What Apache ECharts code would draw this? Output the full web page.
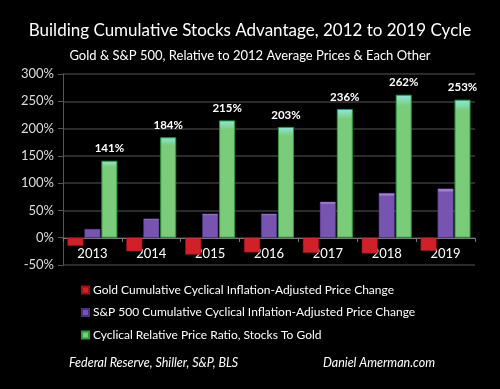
<!DOCTYPE html>
<html><head><meta charset="utf-8">
<script src="https://cdn.jsdelivr.net/npm/echarts@6/dist/echarts.min.js"></script>
<style>html,body{margin:0;padding:0;background:#000;}#c{width:500px;height:389px;}</style>
</head><body><div id="c"></div>
<script>
const categories = ['2013','2014','2015','2016','2017','2018','2019'];
const goldChange = [-15, -25, -31, -27, -28, -29, -24];
const spChange = [16, 35, 44, 44, 66, 82, 90];
const ratio = [141, 184, 215, 203, 236, 262, 253];
const seriesNames = ['Gold Cumulative Cyclical Inflation-Adjusted Price Change','S&P 500 Cumulative Cyclical Inflation-Adjusted Price Change','Cyclical Relative Price Ratio, Stocks To Gold'];
const FONT = 'Lato';
function grad(top, bottom){ return new echarts.graphic.LinearGradient(0,0,0,1,[{offset:0,color:top},{offset:0.08,color:bottom},{offset:1,color:bottom}]); }
const chart = echarts.init(document.getElementById('c'));
chart.setOption({
  backgroundColor:'#000',
  animation:false,
  textStyle:{fontFamily:FONT},
  title:[
    {text:'Building Cumulative Stocks Advantage, 2012 to 2019 Cycle',left:'center',top:17,textStyle:{color:'#fff',fontSize:17,fontWeight:'normal',fontFamily:FONT}},
    {text:'Gold & S&P 500, Relative to 2012 Average Prices & Each Other',left:'center',top:44,textStyle:{color:'#fff',fontSize:13,fontWeight:'normal',fontFamily:FONT}},
    {text:'Federal Reserve, Shiller, S&P, BLS',left:64,top:351,textStyle:{color:'#fff',fontSize:12.5,fontStyle:'italic',fontWeight:'normal',fontFamily:FONT}},
    {text:'Daniel Amerman.com',left:318,top:351,textStyle:{color:'#fff',fontSize:12.5,fontStyle:'italic',fontWeight:'normal',fontFamily:FONT}}
  ],
  legend:{orient:'vertical',left:76,top:279,itemWidth:7,itemHeight:7,itemGap:10.5,icon:'rect',
    textStyle:{color:'#fff',fontSize:12,fontFamily:FONT,padding:[0,0,0,-1]},data:seriesNames},
  grid:{left:63,right:25,top:74,height:191},
  xAxis:{type:'category',data:categories,position:'bottom',offset:-27,
    axisLine:{onZero:false,lineStyle:{color:'#777',width:1}},
    axisTick:{show:true,lineStyle:{color:'#777'},length:4},
    axisLabel:{color:'#fff',fontSize:13,margin:9,fontFamily:FONT}},
  yAxis:{type:'value',min:-50,max:300,interval:50,
    axisLine:{show:true,onZero:false,lineStyle:{color:'#555'}},
    axisTick:{show:true,length:5,lineStyle:{color:'#555'}},
    splitLine:{lineStyle:{color:'#3a3a3a',width:1.5}},
    axisLabel:{color:'#ddd',fontSize:13,margin:9,formatter:'{value}%',fontFamily:FONT}},
  series:[
    {name:seriesNames[0],type:'bar',data:goldChange,barWidth:16,barGap:'6%',
      itemStyle:{color:grad('#f06060','#d0202a'),borderColor:'#a01010',borderWidth:0.5}},
    {name:seriesNames[1],type:'bar',data:spChange,barWidth:16,barGap:'6%',
      itemStyle:{color:grad('#c7a6e8','#7654b0'),borderColor:'#4b2d86',borderWidth:0.5}},
    {name:seriesNames[2],type:'bar',data:ratio,barWidth:16,barGap:'6%',
      itemStyle:{color:grad('#8fe8e0','#7acb7a'),borderColor:'#2f9a3a',borderWidth:1},
      label:{show:true,position:'top',distance:6,color:'#fff',fontSize:11.5,fontWeight:'bold',formatter:'{c}%',fontFamily:FONT}}
  ]
});
</script></body></html>
